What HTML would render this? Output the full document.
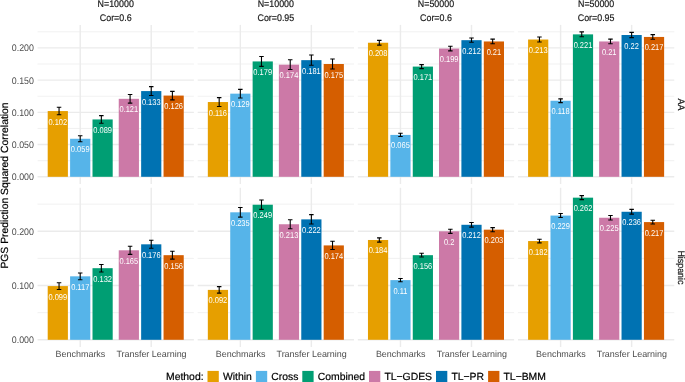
<!DOCTYPE html>
<html><head><meta charset="utf-8"><style>
html,body{margin:0;padding:0;background:#fff;width:685px;height:382px;overflow:hidden}
svg text{font-family:"Liberation Sans", sans-serif}
svg{will-change:transform}
svg text{text-rendering:geometricPrecision}
</style></head><body>
<svg width="685" height="382" viewBox="0 0 685 382" style="display:block">
<rect width="100%" height="100%" fill="#fff"/>
<line x1="37.57" x2="193.87" y1="160.69" y2="160.69" stroke="#EBEBEB" stroke-width="0.71"/>
<line x1="37.57" x2="193.87" y1="128.46" y2="128.46" stroke="#EBEBEB" stroke-width="0.71"/>
<line x1="37.57" x2="193.87" y1="96.24" y2="96.24" stroke="#EBEBEB" stroke-width="0.71"/>
<line x1="37.57" x2="193.87" y1="64.01" y2="64.01" stroke="#EBEBEB" stroke-width="0.71"/>
<line x1="37.57" x2="193.87" y1="31.79" y2="31.79" stroke="#EBEBEB" stroke-width="0.71"/>
<line x1="37.57" x2="193.87" y1="176.80" y2="176.80" stroke="#EBEBEB" stroke-width="1.42"/>
<line x1="37.57" x2="193.87" y1="144.58" y2="144.58" stroke="#EBEBEB" stroke-width="1.42"/>
<line x1="37.57" x2="193.87" y1="112.35" y2="112.35" stroke="#EBEBEB" stroke-width="1.42"/>
<line x1="37.57" x2="193.87" y1="80.13" y2="80.13" stroke="#EBEBEB" stroke-width="1.42"/>
<line x1="37.57" x2="193.87" y1="47.90" y2="47.90" stroke="#EBEBEB" stroke-width="1.42"/>
<line x1="80.20" x2="80.20" y1="24.90" y2="184.00" stroke="#EBEBEB" stroke-width="1.42"/>
<line x1="151.24" x2="151.24" y1="24.90" y2="184.00" stroke="#EBEBEB" stroke-width="1.42"/>
<rect x="47.70" y="111.06" width="20.20" height="65.74" fill="#E69F00"/>
<rect x="70.10" y="138.77" width="20.20" height="38.03" fill="#56B4E9"/>
<rect x="92.50" y="119.44" width="20.20" height="57.36" fill="#009E73"/>
<rect x="118.74" y="98.82" width="20.20" height="77.98" fill="#CC79A7"/>
<rect x="141.14" y="91.08" width="20.20" height="85.72" fill="#0072B2"/>
<rect x="163.54" y="95.59" width="20.20" height="81.21" fill="#D55E00"/>
<path d="M56.80 107.31H61.30M59.05 107.31V114.81M56.80 114.81H61.30" stroke="#000" stroke-width="1.1" fill="none"/>
<path d="M77.95 135.77H82.45M80.20 135.77V141.77M77.95 141.77H82.45" stroke="#000" stroke-width="1.1" fill="none"/>
<path d="M99.10 115.59H103.60M101.35 115.59V123.29M99.10 123.29H103.60" stroke="#000" stroke-width="1.1" fill="none"/>
<path d="M127.84 94.52H132.34M130.09 94.52V103.12M127.84 103.12H132.34" stroke="#000" stroke-width="1.1" fill="none"/>
<path d="M148.99 86.63H153.49M151.24 86.63V95.53M148.99 95.53H153.49" stroke="#000" stroke-width="1.1" fill="none"/>
<path d="M170.14 91.34H174.64M172.39 91.34V99.84M170.14 99.84H174.64" stroke="#000" stroke-width="1.1" fill="none"/>
<text transform="translate(57.80 124.56) scale(0.88 1)" font-size="8.5" fill="#fff" text-anchor="middle">0.102</text>
<text transform="translate(80.20 152.27) scale(0.88 1)" font-size="8.5" fill="#fff" text-anchor="middle">0.059</text>
<text transform="translate(102.60 132.94) scale(0.88 1)" font-size="8.5" fill="#fff" text-anchor="middle">0.089</text>
<text transform="translate(128.84 112.32) scale(0.88 1)" font-size="8.5" fill="#fff" text-anchor="middle">0.121</text>
<text transform="translate(151.24 104.58) scale(0.88 1)" font-size="8.5" fill="#fff" text-anchor="middle">0.133</text>
<text transform="translate(173.64 109.09) scale(0.88 1)" font-size="8.5" fill="#fff" text-anchor="middle">0.126</text>
<line x1="197.70" x2="354.00" y1="160.69" y2="160.69" stroke="#EBEBEB" stroke-width="0.71"/>
<line x1="197.70" x2="354.00" y1="128.46" y2="128.46" stroke="#EBEBEB" stroke-width="0.71"/>
<line x1="197.70" x2="354.00" y1="96.24" y2="96.24" stroke="#EBEBEB" stroke-width="0.71"/>
<line x1="197.70" x2="354.00" y1="64.01" y2="64.01" stroke="#EBEBEB" stroke-width="0.71"/>
<line x1="197.70" x2="354.00" y1="31.79" y2="31.79" stroke="#EBEBEB" stroke-width="0.71"/>
<line x1="197.70" x2="354.00" y1="176.80" y2="176.80" stroke="#EBEBEB" stroke-width="1.42"/>
<line x1="197.70" x2="354.00" y1="144.58" y2="144.58" stroke="#EBEBEB" stroke-width="1.42"/>
<line x1="197.70" x2="354.00" y1="112.35" y2="112.35" stroke="#EBEBEB" stroke-width="1.42"/>
<line x1="197.70" x2="354.00" y1="80.13" y2="80.13" stroke="#EBEBEB" stroke-width="1.42"/>
<line x1="197.70" x2="354.00" y1="47.90" y2="47.90" stroke="#EBEBEB" stroke-width="1.42"/>
<line x1="240.33" x2="240.33" y1="24.90" y2="184.00" stroke="#EBEBEB" stroke-width="1.42"/>
<line x1="311.37" x2="311.37" y1="24.90" y2="184.00" stroke="#EBEBEB" stroke-width="1.42"/>
<rect x="207.83" y="102.04" width="20.20" height="74.76" fill="#E69F00"/>
<rect x="230.23" y="93.66" width="20.20" height="83.14" fill="#56B4E9"/>
<rect x="252.63" y="61.43" width="20.20" height="115.37" fill="#009E73"/>
<rect x="278.87" y="64.66" width="20.20" height="112.14" fill="#CC79A7"/>
<rect x="301.27" y="60.15" width="20.20" height="116.65" fill="#0072B2"/>
<rect x="323.67" y="64.01" width="20.20" height="112.79" fill="#D55E00"/>
<path d="M216.93 97.64H221.43M219.18 97.64V106.44M216.93 106.44H221.43" stroke="#000" stroke-width="1.1" fill="none"/>
<path d="M238.08 89.36H242.58M240.33 89.36V97.96M238.08 97.96H242.58" stroke="#000" stroke-width="1.1" fill="none"/>
<path d="M259.23 56.53H263.73M261.48 56.53V66.33M259.23 66.33H263.73" stroke="#000" stroke-width="1.1" fill="none"/>
<path d="M287.97 59.76H292.47M290.22 59.76V69.56M287.97 69.56H292.47" stroke="#000" stroke-width="1.1" fill="none"/>
<path d="M309.12 55.05H313.62M311.37 55.05V65.25M309.12 65.25H313.62" stroke="#000" stroke-width="1.1" fill="none"/>
<path d="M330.27 59.06H334.77M332.52 59.06V68.96M330.27 68.96H334.77" stroke="#000" stroke-width="1.1" fill="none"/>
<text transform="translate(217.93 115.54) scale(0.88 1)" font-size="8.5" fill="#fff" text-anchor="middle">0.116</text>
<text transform="translate(240.33 107.16) scale(0.88 1)" font-size="8.5" fill="#fff" text-anchor="middle">0.129</text>
<text transform="translate(262.73 74.93) scale(0.88 1)" font-size="8.5" fill="#fff" text-anchor="middle">0.179</text>
<text transform="translate(288.97 78.16) scale(0.88 1)" font-size="8.5" fill="#fff" text-anchor="middle">0.174</text>
<text transform="translate(311.37 73.65) scale(0.88 1)" font-size="8.5" fill="#fff" text-anchor="middle">0.181</text>
<text transform="translate(333.77 77.51) scale(0.88 1)" font-size="8.5" fill="#fff" text-anchor="middle">0.175</text>
<line x1="357.83" x2="514.13" y1="160.69" y2="160.69" stroke="#EBEBEB" stroke-width="0.71"/>
<line x1="357.83" x2="514.13" y1="128.46" y2="128.46" stroke="#EBEBEB" stroke-width="0.71"/>
<line x1="357.83" x2="514.13" y1="96.24" y2="96.24" stroke="#EBEBEB" stroke-width="0.71"/>
<line x1="357.83" x2="514.13" y1="64.01" y2="64.01" stroke="#EBEBEB" stroke-width="0.71"/>
<line x1="357.83" x2="514.13" y1="31.79" y2="31.79" stroke="#EBEBEB" stroke-width="0.71"/>
<line x1="357.83" x2="514.13" y1="176.80" y2="176.80" stroke="#EBEBEB" stroke-width="1.42"/>
<line x1="357.83" x2="514.13" y1="144.58" y2="144.58" stroke="#EBEBEB" stroke-width="1.42"/>
<line x1="357.83" x2="514.13" y1="112.35" y2="112.35" stroke="#EBEBEB" stroke-width="1.42"/>
<line x1="357.83" x2="514.13" y1="80.13" y2="80.13" stroke="#EBEBEB" stroke-width="1.42"/>
<line x1="357.83" x2="514.13" y1="47.90" y2="47.90" stroke="#EBEBEB" stroke-width="1.42"/>
<line x1="400.46" x2="400.46" y1="24.90" y2="184.00" stroke="#EBEBEB" stroke-width="1.42"/>
<line x1="471.50" x2="471.50" y1="24.90" y2="184.00" stroke="#EBEBEB" stroke-width="1.42"/>
<rect x="367.96" y="42.74" width="20.20" height="134.06" fill="#E69F00"/>
<rect x="390.36" y="134.91" width="20.20" height="41.89" fill="#56B4E9"/>
<rect x="412.76" y="66.59" width="20.20" height="110.21" fill="#009E73"/>
<rect x="439.00" y="48.54" width="20.20" height="128.26" fill="#CC79A7"/>
<rect x="461.40" y="40.17" width="20.20" height="136.63" fill="#0072B2"/>
<rect x="483.80" y="41.46" width="20.20" height="135.34" fill="#D55E00"/>
<path d="M377.06 40.39H381.56M379.31 40.39V45.09M377.06 45.09H381.56" stroke="#000" stroke-width="1.1" fill="none"/>
<path d="M398.21 133.31H402.71M400.46 133.31V136.51M398.21 136.51H402.71" stroke="#000" stroke-width="1.1" fill="none"/>
<path d="M419.36 64.59H423.86M421.61 64.59V68.59M419.36 68.59H423.86" stroke="#000" stroke-width="1.1" fill="none"/>
<path d="M448.10 46.19H452.60M450.35 46.19V50.89M448.10 50.89H452.60" stroke="#000" stroke-width="1.1" fill="none"/>
<path d="M469.25 38.07H473.75M471.50 38.07V42.27M469.25 42.27H473.75" stroke="#000" stroke-width="1.1" fill="none"/>
<path d="M490.40 39.16H494.90M492.65 39.16V43.76M490.40 43.76H494.90" stroke="#000" stroke-width="1.1" fill="none"/>
<text transform="translate(378.06 56.24) scale(0.88 1)" font-size="8.5" fill="#fff" text-anchor="middle">0.208</text>
<text transform="translate(400.46 148.41) scale(0.88 1)" font-size="8.5" fill="#fff" text-anchor="middle">0.065</text>
<text transform="translate(422.86 80.09) scale(0.88 1)" font-size="8.5" fill="#fff" text-anchor="middle">0.171</text>
<text transform="translate(449.10 62.04) scale(0.88 1)" font-size="8.5" fill="#fff" text-anchor="middle">0.199</text>
<text transform="translate(471.50 53.67) scale(0.88 1)" font-size="8.5" fill="#fff" text-anchor="middle">0.212</text>
<text transform="translate(493.90 54.96) scale(0.88 1)" font-size="8.5" fill="#fff" text-anchor="middle">0.21</text>
<line x1="517.96" x2="674.26" y1="160.69" y2="160.69" stroke="#EBEBEB" stroke-width="0.71"/>
<line x1="517.96" x2="674.26" y1="128.46" y2="128.46" stroke="#EBEBEB" stroke-width="0.71"/>
<line x1="517.96" x2="674.26" y1="96.24" y2="96.24" stroke="#EBEBEB" stroke-width="0.71"/>
<line x1="517.96" x2="674.26" y1="64.01" y2="64.01" stroke="#EBEBEB" stroke-width="0.71"/>
<line x1="517.96" x2="674.26" y1="31.79" y2="31.79" stroke="#EBEBEB" stroke-width="0.71"/>
<line x1="517.96" x2="674.26" y1="176.80" y2="176.80" stroke="#EBEBEB" stroke-width="1.42"/>
<line x1="517.96" x2="674.26" y1="144.58" y2="144.58" stroke="#EBEBEB" stroke-width="1.42"/>
<line x1="517.96" x2="674.26" y1="112.35" y2="112.35" stroke="#EBEBEB" stroke-width="1.42"/>
<line x1="517.96" x2="674.26" y1="80.13" y2="80.13" stroke="#EBEBEB" stroke-width="1.42"/>
<line x1="517.96" x2="674.26" y1="47.90" y2="47.90" stroke="#EBEBEB" stroke-width="1.42"/>
<line x1="560.59" x2="560.59" y1="24.90" y2="184.00" stroke="#EBEBEB" stroke-width="1.42"/>
<line x1="631.63" x2="631.63" y1="24.90" y2="184.00" stroke="#EBEBEB" stroke-width="1.42"/>
<rect x="528.09" y="39.52" width="20.20" height="137.28" fill="#E69F00"/>
<rect x="550.49" y="100.75" width="20.20" height="76.05" fill="#56B4E9"/>
<rect x="572.89" y="34.37" width="20.20" height="142.43" fill="#009E73"/>
<rect x="599.13" y="41.46" width="20.20" height="135.34" fill="#CC79A7"/>
<rect x="621.53" y="35.01" width="20.20" height="141.79" fill="#0072B2"/>
<rect x="643.93" y="36.94" width="20.20" height="139.86" fill="#D55E00"/>
<path d="M537.19 37.07H541.69M539.44 37.07V41.97M537.19 41.97H541.69" stroke="#000" stroke-width="1.1" fill="none"/>
<path d="M558.34 98.90H562.84M560.59 98.90V102.60M558.34 102.60H562.84" stroke="#000" stroke-width="1.1" fill="none"/>
<path d="M579.49 31.92H583.99M581.74 31.92V36.82M579.49 36.82H583.99" stroke="#000" stroke-width="1.1" fill="none"/>
<path d="M608.23 39.16H612.73M610.48 39.16V43.76M608.23 43.76H612.73" stroke="#000" stroke-width="1.1" fill="none"/>
<path d="M629.38 32.41H633.88M631.63 32.41V37.61M629.38 37.61H633.88" stroke="#000" stroke-width="1.1" fill="none"/>
<path d="M650.53 34.59H655.03M652.78 34.59V39.29M650.53 39.29H655.03" stroke="#000" stroke-width="1.1" fill="none"/>
<text transform="translate(538.19 53.02) scale(0.88 1)" font-size="8.5" fill="#fff" text-anchor="middle">0.213</text>
<text transform="translate(560.59 114.25) scale(0.88 1)" font-size="8.5" fill="#fff" text-anchor="middle">0.118</text>
<text transform="translate(582.99 47.87) scale(0.88 1)" font-size="8.5" fill="#fff" text-anchor="middle">0.221</text>
<text transform="translate(609.23 54.96) scale(0.88 1)" font-size="8.5" fill="#fff" text-anchor="middle">0.21</text>
<text transform="translate(631.63 48.51) scale(0.88 1)" font-size="8.5" fill="#fff" text-anchor="middle">0.22</text>
<text transform="translate(654.03 50.44) scale(0.88 1)" font-size="8.5" fill="#fff" text-anchor="middle">0.217</text>
<line x1="37.57" x2="193.87" y1="312.68" y2="312.68" stroke="#EBEBEB" stroke-width="0.71"/>
<line x1="37.57" x2="193.87" y1="258.43" y2="258.43" stroke="#EBEBEB" stroke-width="0.71"/>
<line x1="37.57" x2="193.87" y1="204.18" y2="204.18" stroke="#EBEBEB" stroke-width="0.71"/>
<line x1="37.57" x2="193.87" y1="339.80" y2="339.80" stroke="#EBEBEB" stroke-width="1.42"/>
<line x1="37.57" x2="193.87" y1="285.55" y2="285.55" stroke="#EBEBEB" stroke-width="1.42"/>
<line x1="37.57" x2="193.87" y1="231.30" y2="231.30" stroke="#EBEBEB" stroke-width="1.42"/>
<line x1="80.20" x2="80.20" y1="187.80" y2="347.00" stroke="#EBEBEB" stroke-width="1.42"/>
<line x1="151.24" x2="151.24" y1="187.80" y2="347.00" stroke="#EBEBEB" stroke-width="1.42"/>
<rect x="47.70" y="286.09" width="20.20" height="53.71" fill="#E69F00"/>
<rect x="70.10" y="276.33" width="20.20" height="63.47" fill="#56B4E9"/>
<rect x="92.50" y="268.19" width="20.20" height="71.61" fill="#009E73"/>
<rect x="118.74" y="250.29" width="20.20" height="89.51" fill="#CC79A7"/>
<rect x="141.14" y="244.32" width="20.20" height="95.48" fill="#0072B2"/>
<rect x="163.54" y="255.17" width="20.20" height="84.63" fill="#D55E00"/>
<path d="M56.80 282.69H61.30M59.05 282.69V289.49M56.80 289.49H61.30" stroke="#000" stroke-width="1.1" fill="none"/>
<path d="M77.95 272.93H82.45M80.20 272.93V279.73M77.95 279.73H82.45" stroke="#000" stroke-width="1.1" fill="none"/>
<path d="M99.10 264.44H103.60M101.35 264.44V271.94M99.10 271.94H103.60" stroke="#000" stroke-width="1.1" fill="none"/>
<path d="M127.84 246.19H132.34M130.09 246.19V254.39M127.84 254.39H132.34" stroke="#000" stroke-width="1.1" fill="none"/>
<path d="M148.99 240.32H153.49M151.24 240.32V248.32M148.99 248.32H153.49" stroke="#000" stroke-width="1.1" fill="none"/>
<path d="M170.14 251.22H174.64M172.39 251.22V259.12M170.14 259.12H174.64" stroke="#000" stroke-width="1.1" fill="none"/>
<text transform="translate(57.80 299.59) scale(0.88 1)" font-size="8.5" fill="#fff" text-anchor="middle">0.099</text>
<text transform="translate(80.20 289.83) scale(0.88 1)" font-size="8.5" fill="#fff" text-anchor="middle">0.117</text>
<text transform="translate(102.60 281.69) scale(0.88 1)" font-size="8.5" fill="#fff" text-anchor="middle">0.132</text>
<text transform="translate(128.84 263.79) scale(0.88 1)" font-size="8.5" fill="#fff" text-anchor="middle">0.165</text>
<text transform="translate(151.24 257.82) scale(0.88 1)" font-size="8.5" fill="#fff" text-anchor="middle">0.176</text>
<text transform="translate(173.64 268.67) scale(0.88 1)" font-size="8.5" fill="#fff" text-anchor="middle">0.156</text>
<line x1="197.70" x2="354.00" y1="312.68" y2="312.68" stroke="#EBEBEB" stroke-width="0.71"/>
<line x1="197.70" x2="354.00" y1="258.43" y2="258.43" stroke="#EBEBEB" stroke-width="0.71"/>
<line x1="197.70" x2="354.00" y1="204.18" y2="204.18" stroke="#EBEBEB" stroke-width="0.71"/>
<line x1="197.70" x2="354.00" y1="339.80" y2="339.80" stroke="#EBEBEB" stroke-width="1.42"/>
<line x1="197.70" x2="354.00" y1="285.55" y2="285.55" stroke="#EBEBEB" stroke-width="1.42"/>
<line x1="197.70" x2="354.00" y1="231.30" y2="231.30" stroke="#EBEBEB" stroke-width="1.42"/>
<line x1="240.33" x2="240.33" y1="187.80" y2="347.00" stroke="#EBEBEB" stroke-width="1.42"/>
<line x1="311.37" x2="311.37" y1="187.80" y2="347.00" stroke="#EBEBEB" stroke-width="1.42"/>
<rect x="207.83" y="289.89" width="20.20" height="49.91" fill="#E69F00"/>
<rect x="230.23" y="212.31" width="20.20" height="127.49" fill="#56B4E9"/>
<rect x="252.63" y="204.72" width="20.20" height="135.08" fill="#009E73"/>
<rect x="278.87" y="224.25" width="20.20" height="115.55" fill="#CC79A7"/>
<rect x="301.27" y="219.37" width="20.20" height="120.44" fill="#0072B2"/>
<rect x="323.67" y="245.41" width="20.20" height="94.39" fill="#D55E00"/>
<path d="M216.93 286.64H221.43M219.18 286.64V293.14M216.93 293.14H221.43" stroke="#000" stroke-width="1.1" fill="none"/>
<path d="M238.08 207.51H242.58M240.33 207.51V217.11M238.08 217.11H242.58" stroke="#000" stroke-width="1.1" fill="none"/>
<path d="M259.23 200.02H263.73M261.48 200.02V209.42M259.23 209.42H263.73" stroke="#000" stroke-width="1.1" fill="none"/>
<path d="M287.97 219.70H292.47M290.22 219.70V228.80M287.97 228.80H292.47" stroke="#000" stroke-width="1.1" fill="none"/>
<path d="M309.12 214.67H313.62M311.37 214.67V224.06M309.12 224.06H313.62" stroke="#000" stroke-width="1.1" fill="none"/>
<path d="M330.27 241.26H334.77M332.52 241.26V249.56M330.27 249.56H334.77" stroke="#000" stroke-width="1.1" fill="none"/>
<text transform="translate(217.93 303.39) scale(0.88 1)" font-size="8.5" fill="#fff" text-anchor="middle">0.092</text>
<text transform="translate(240.33 225.81) scale(0.88 1)" font-size="8.5" fill="#fff" text-anchor="middle">0.235</text>
<text transform="translate(262.73 218.22) scale(0.88 1)" font-size="8.5" fill="#fff" text-anchor="middle">0.249</text>
<text transform="translate(288.97 237.75) scale(0.88 1)" font-size="8.5" fill="#fff" text-anchor="middle">0.213</text>
<text transform="translate(311.37 232.87) scale(0.88 1)" font-size="8.5" fill="#fff" text-anchor="middle">0.222</text>
<text transform="translate(333.77 258.91) scale(0.88 1)" font-size="8.5" fill="#fff" text-anchor="middle">0.174</text>
<line x1="357.83" x2="514.13" y1="312.68" y2="312.68" stroke="#EBEBEB" stroke-width="0.71"/>
<line x1="357.83" x2="514.13" y1="258.43" y2="258.43" stroke="#EBEBEB" stroke-width="0.71"/>
<line x1="357.83" x2="514.13" y1="204.18" y2="204.18" stroke="#EBEBEB" stroke-width="0.71"/>
<line x1="357.83" x2="514.13" y1="339.80" y2="339.80" stroke="#EBEBEB" stroke-width="1.42"/>
<line x1="357.83" x2="514.13" y1="285.55" y2="285.55" stroke="#EBEBEB" stroke-width="1.42"/>
<line x1="357.83" x2="514.13" y1="231.30" y2="231.30" stroke="#EBEBEB" stroke-width="1.42"/>
<line x1="400.46" x2="400.46" y1="187.80" y2="347.00" stroke="#EBEBEB" stroke-width="1.42"/>
<line x1="471.50" x2="471.50" y1="187.80" y2="347.00" stroke="#EBEBEB" stroke-width="1.42"/>
<rect x="367.96" y="239.98" width="20.20" height="99.82" fill="#E69F00"/>
<rect x="390.36" y="280.12" width="20.20" height="59.68" fill="#56B4E9"/>
<rect x="412.76" y="255.17" width="20.20" height="84.63" fill="#009E73"/>
<rect x="439.00" y="231.30" width="20.20" height="108.50" fill="#CC79A7"/>
<rect x="461.40" y="224.79" width="20.20" height="115.01" fill="#0072B2"/>
<rect x="483.80" y="229.67" width="20.20" height="110.13" fill="#D55E00"/>
<path d="M377.06 237.83H381.56M379.31 237.83V242.13M377.06 242.13H381.56" stroke="#000" stroke-width="1.1" fill="none"/>
<path d="M398.21 278.52H402.71M400.46 278.52V281.73M398.21 281.73H402.71" stroke="#000" stroke-width="1.1" fill="none"/>
<path d="M419.36 253.32H423.86M421.61 253.32V257.02M419.36 257.02H423.86" stroke="#000" stroke-width="1.1" fill="none"/>
<path d="M448.10 229.25H452.60M450.35 229.25V233.35M448.10 233.35H452.60" stroke="#000" stroke-width="1.1" fill="none"/>
<path d="M469.25 222.49H473.75M471.50 222.49V227.09M469.25 227.09H473.75" stroke="#000" stroke-width="1.1" fill="none"/>
<path d="M490.40 227.62H494.90M492.65 227.62V231.72M490.40 231.72H494.90" stroke="#000" stroke-width="1.1" fill="none"/>
<text transform="translate(378.06 253.48) scale(0.88 1)" font-size="8.5" fill="#fff" text-anchor="middle">0.184</text>
<text transform="translate(400.46 293.62) scale(0.88 1)" font-size="8.5" fill="#fff" text-anchor="middle">0.11</text>
<text transform="translate(422.86 268.67) scale(0.88 1)" font-size="8.5" fill="#fff" text-anchor="middle">0.156</text>
<text transform="translate(449.10 244.80) scale(0.88 1)" font-size="8.5" fill="#fff" text-anchor="middle">0.2</text>
<text transform="translate(471.50 238.29) scale(0.88 1)" font-size="8.5" fill="#fff" text-anchor="middle">0.212</text>
<text transform="translate(493.90 243.17) scale(0.88 1)" font-size="8.5" fill="#fff" text-anchor="middle">0.203</text>
<line x1="517.96" x2="674.26" y1="312.68" y2="312.68" stroke="#EBEBEB" stroke-width="0.71"/>
<line x1="517.96" x2="674.26" y1="258.43" y2="258.43" stroke="#EBEBEB" stroke-width="0.71"/>
<line x1="517.96" x2="674.26" y1="204.18" y2="204.18" stroke="#EBEBEB" stroke-width="0.71"/>
<line x1="517.96" x2="674.26" y1="339.80" y2="339.80" stroke="#EBEBEB" stroke-width="1.42"/>
<line x1="517.96" x2="674.26" y1="285.55" y2="285.55" stroke="#EBEBEB" stroke-width="1.42"/>
<line x1="517.96" x2="674.26" y1="231.30" y2="231.30" stroke="#EBEBEB" stroke-width="1.42"/>
<line x1="560.59" x2="560.59" y1="187.80" y2="347.00" stroke="#EBEBEB" stroke-width="1.42"/>
<line x1="631.63" x2="631.63" y1="187.80" y2="347.00" stroke="#EBEBEB" stroke-width="1.42"/>
<rect x="528.09" y="241.06" width="20.20" height="98.74" fill="#E69F00"/>
<rect x="550.49" y="215.57" width="20.20" height="124.23" fill="#56B4E9"/>
<rect x="572.89" y="197.66" width="20.20" height="142.14" fill="#009E73"/>
<rect x="599.13" y="217.74" width="20.20" height="122.06" fill="#CC79A7"/>
<rect x="621.53" y="211.77" width="20.20" height="128.03" fill="#0072B2"/>
<rect x="643.93" y="222.08" width="20.20" height="117.72" fill="#D55E00"/>
<path d="M537.19 239.22H541.69M539.44 239.22V242.91M537.19 242.91H541.69" stroke="#000" stroke-width="1.1" fill="none"/>
<path d="M558.34 213.57H562.84M560.59 213.57V217.57M558.34 217.57H562.84" stroke="#000" stroke-width="1.1" fill="none"/>
<path d="M579.49 195.66H583.99M581.74 195.66V199.66M579.49 199.66H583.99" stroke="#000" stroke-width="1.1" fill="none"/>
<path d="M608.23 215.54H612.73M610.48 215.54V219.94M608.23 219.94H612.73" stroke="#000" stroke-width="1.1" fill="none"/>
<path d="M629.38 209.42H633.88M631.63 209.42V214.12M629.38 214.12H633.88" stroke="#000" stroke-width="1.1" fill="none"/>
<path d="M650.53 220.18H655.03M652.78 220.18V223.98M650.53 223.98H655.03" stroke="#000" stroke-width="1.1" fill="none"/>
<text transform="translate(538.19 254.56) scale(0.88 1)" font-size="8.5" fill="#fff" text-anchor="middle">0.182</text>
<text transform="translate(560.59 229.07) scale(0.88 1)" font-size="8.5" fill="#fff" text-anchor="middle">0.229</text>
<text transform="translate(582.99 211.16) scale(0.88 1)" font-size="8.5" fill="#fff" text-anchor="middle">0.262</text>
<text transform="translate(609.23 231.24) scale(0.88 1)" font-size="8.5" fill="#fff" text-anchor="middle">0.225</text>
<text transform="translate(631.63 225.27) scale(0.88 1)" font-size="8.5" fill="#fff" text-anchor="middle">0.236</text>
<text transform="translate(654.03 235.58) scale(0.88 1)" font-size="8.5" fill="#fff" text-anchor="middle">0.217</text>
<text transform="translate(33.9 180.20) scale(0.92 1)" font-size="9.6" fill="#4D4D4D" text-anchor="end">0.000</text>
<text transform="translate(33.9 147.98) scale(0.92 1)" font-size="9.6" fill="#4D4D4D" text-anchor="end">0.050</text>
<text transform="translate(33.9 115.75) scale(0.92 1)" font-size="9.6" fill="#4D4D4D" text-anchor="end">0.100</text>
<text transform="translate(33.9 83.53) scale(0.92 1)" font-size="9.6" fill="#4D4D4D" text-anchor="end">0.150</text>
<text transform="translate(33.9 51.30) scale(0.92 1)" font-size="9.6" fill="#4D4D4D" text-anchor="end">0.200</text>
<text transform="translate(33.9 343.20) scale(0.92 1)" font-size="9.6" fill="#4D4D4D" text-anchor="end">0.000</text>
<text transform="translate(33.9 288.95) scale(0.92 1)" font-size="9.6" fill="#4D4D4D" text-anchor="end">0.100</text>
<text transform="translate(33.9 234.70) scale(0.92 1)" font-size="9.6" fill="#4D4D4D" text-anchor="end">0.200</text>
<text transform="translate(80.45 357.0) scale(1.0 1)" font-size="8.95" fill="#4D4D4D" text-anchor="middle">Benchmarks</text>
<text transform="translate(151.49 357.0) scale(1.0 1)" font-size="8.95" fill="#4D4D4D" text-anchor="middle">Transfer Learning</text>
<text transform="translate(240.58 357.0) scale(1.0 1)" font-size="8.95" fill="#4D4D4D" text-anchor="middle">Benchmarks</text>
<text transform="translate(311.62 357.0) scale(1.0 1)" font-size="8.95" fill="#4D4D4D" text-anchor="middle">Transfer Learning</text>
<text transform="translate(400.71 357.0) scale(1.0 1)" font-size="8.95" fill="#4D4D4D" text-anchor="middle">Benchmarks</text>
<text transform="translate(471.75 357.0) scale(1.0 1)" font-size="8.95" fill="#4D4D4D" text-anchor="middle">Transfer Learning</text>
<text transform="translate(560.84 357.0) scale(1.0 1)" font-size="8.95" fill="#4D4D4D" text-anchor="middle">Benchmarks</text>
<text transform="translate(631.88 357.0) scale(1.0 1)" font-size="8.95" fill="#4D4D4D" text-anchor="middle">Transfer Learning</text>
<text transform="translate(115.72 6.5) scale(0.925 1)" font-size="9.6" fill="#1A1A1A" stroke="#1A1A1A" stroke-width="0.2" text-anchor="middle">N=10000</text>
<text transform="translate(115.72 20.5) scale(0.925 1)" font-size="9.6" fill="#1A1A1A" stroke="#1A1A1A" stroke-width="0.2" text-anchor="middle">Cor=0.6</text>
<text transform="translate(275.85 6.5) scale(0.925 1)" font-size="9.6" fill="#1A1A1A" stroke="#1A1A1A" stroke-width="0.2" text-anchor="middle">N=10000</text>
<text transform="translate(275.85 20.5) scale(0.925 1)" font-size="9.6" fill="#1A1A1A" stroke="#1A1A1A" stroke-width="0.2" text-anchor="middle">Cor=0.95</text>
<text transform="translate(435.98 6.5) scale(0.925 1)" font-size="9.6" fill="#1A1A1A" stroke="#1A1A1A" stroke-width="0.2" text-anchor="middle">N=50000</text>
<text transform="translate(435.98 20.5) scale(0.925 1)" font-size="9.6" fill="#1A1A1A" stroke="#1A1A1A" stroke-width="0.2" text-anchor="middle">Cor=0.6</text>
<text transform="translate(596.11 6.5) scale(0.925 1)" font-size="9.6" fill="#1A1A1A" stroke="#1A1A1A" stroke-width="0.2" text-anchor="middle">N=50000</text>
<text transform="translate(596.11 20.5) scale(0.925 1)" font-size="9.6" fill="#1A1A1A" stroke="#1A1A1A" stroke-width="0.2" text-anchor="middle">Cor=0.95</text>
<text transform="translate(678.2 104.45) rotate(90) scale(0.925 1)" font-size="9.6" fill="#1A1A1A" stroke="#1A1A1A" stroke-width="0.2" text-anchor="middle">AA</text>
<text transform="translate(678.2 267.40) rotate(90) scale(0.925 1)" font-size="9.6" fill="#1A1A1A" stroke="#1A1A1A" stroke-width="0.2" text-anchor="middle">Hispanic</text>
<text transform="translate(7.9 185.5) rotate(-90)" font-size="10.35" fill="#000" stroke="#000" stroke-width="0.2" text-anchor="middle">PGS Prediction Squared Correlation</text>
<text x="166.0" y="379.8" font-size="10.4" fill="#000" stroke="#000" stroke-width="0.2">Method:</text>
<rect x="207.50" y="370.9" width="11.3" height="11.3" fill="#E69F00"/>
<text x="222.90" y="379.8" font-size="10.4" fill="#000" stroke="#000" stroke-width="0.2">Within</text>
<rect x="255.90" y="370.9" width="11.3" height="11.3" fill="#56B4E9"/>
<text x="271.30" y="379.8" font-size="10.4" fill="#000" stroke="#000" stroke-width="0.2">Cross</text>
<rect x="302.30" y="370.9" width="11.3" height="11.3" fill="#009E73"/>
<text x="317.70" y="379.8" font-size="10.4" fill="#000" stroke="#000" stroke-width="0.2">Combined</text>
<rect x="369.00" y="370.9" width="11.3" height="11.3" fill="#CC79A7"/>
<text x="384.40" y="379.8" font-size="10.4" fill="#000" stroke="#000" stroke-width="0.2">TL−GDES</text>
<rect x="436.00" y="370.9" width="11.3" height="11.3" fill="#0072B2"/>
<text x="451.40" y="379.8" font-size="10.4" fill="#000" stroke="#000" stroke-width="0.2">TL−PR</text>
<rect x="488.10" y="370.9" width="11.3" height="11.3" fill="#D55E00"/>
<text x="503.50" y="379.8" font-size="10.4" fill="#000" stroke="#000" stroke-width="0.2">TL−BMM</text>
</svg>
</body></html>
